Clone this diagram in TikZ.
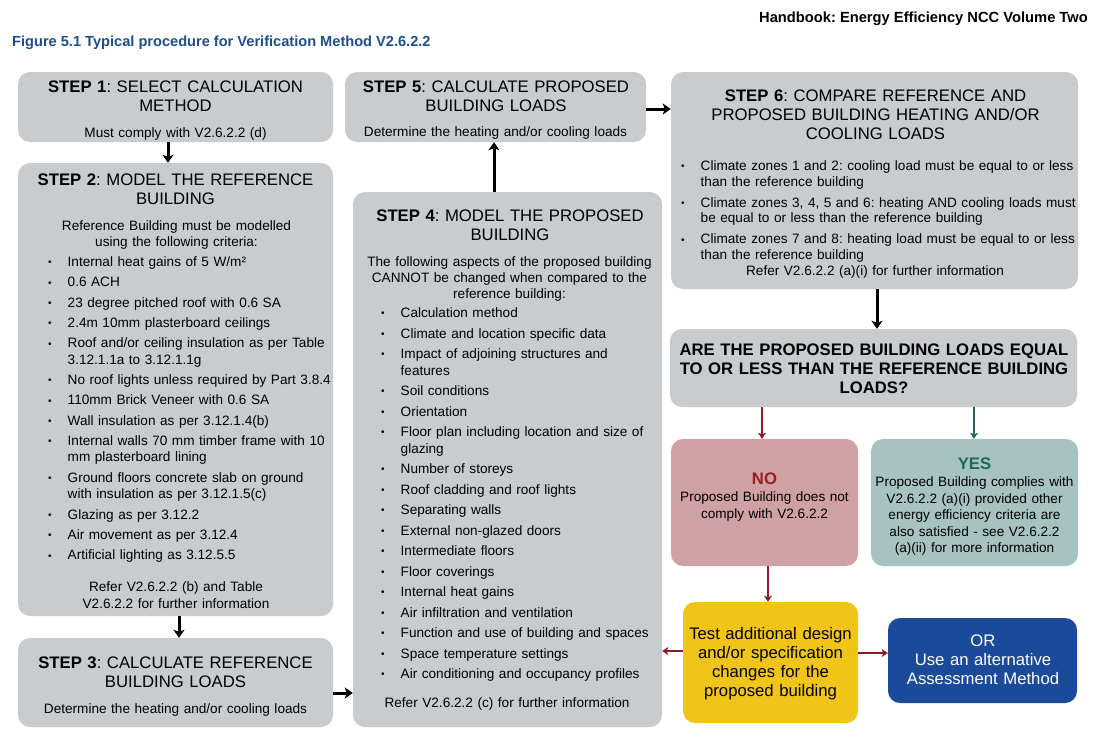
\documentclass[tikz,border=0pt]{standalone}
\usepackage{fontspec}
\setmainfont{Liberation Sans}
\usetikzlibrary{arrows.meta}
\frenchspacing
\definecolor{boxgray}{HTML}{C9CCCF}
\definecolor{nofill}{HTML}{D0A1A4}
\definecolor{yesfill}{HTML}{A7C3C1}
\definecolor{yellowfill}{HTML}{F1C419}
\definecolor{bluefill}{HTML}{1B4A9A}
\definecolor{notext}{HTML}{9B1C22}
\definecolor{yestext}{HTML}{1C6A5C}
\definecolor{redarrow}{HTML}{8C1A20}
\definecolor{tealarrow}{HTML}{1E6A5E}
\definecolor{figblue}{HTML}{1F4E8E}
\newcommand{\titlefont}{\frenchspacing\fontsize{16.7}{19}\selectfont}
\newcommand{\bodyfont}{\frenchspacing\fontsize{13.6}{16.5}\selectfont}
\newcommand{\bulletsym}{\raisebox{0.6pt}{\fontsize{10}{10}\selectfont\textbullet}}
\newcommand{\bitem}[1]{\hangindent=19.5pt\hangafter=1\noindent\makebox[19.5pt][l]{\bulletsym}#1\par}
\tikzset{
  box/.style={fill=boxgray, draw=none, rounded corners=12pt, inner sep=0pt},
  ttl/.style={inner sep=0pt, anchor=base, align=center, font=\titlefont},
  bdy/.style={inner sep=0pt, anchor=base, align=center, font=\bodyfont},
  lst/.style={inner sep=0pt, anchor=base west, align=left, font=\bodyfont},
  barr/.style={line width=3pt, -{Stealth[length=8pt,width=11pt,inset=2pt]}},
  rarr/.style={line width=1.8pt, draw=redarrow, -{Stealth[length=6pt,width=8pt,inset=1.5pt]}},
  tarr/.style={line width=1.8pt, draw=tealarrow, -{Stealth[length=6pt,width=8pt,inset=1.5pt]}}
}
\begin{document}
\begin{tikzpicture}[x=1pt,y=-1pt]
\fill[white] (0,0) rectangle (1100,737);
\useasboundingbox (0,0) rectangle (1100,737);

% header
\node[inner sep=0pt, anchor=base east, font=\frenchspacing\fontsize{14.7}{17}\selectfont\bfseries] (hdr) at (1088,22) {Handbook: Energy Efficiency NCC Volume Two};
\node[inner sep=0pt, anchor=base west, font=\frenchspacing\fontsize{14.6}{17}\selectfont\bfseries, text=figblue] (fig) at (12,46) {Figure 5.1 Typical procedure for Verification Method V2.6.2.2};

% boxes
\node[box, minimum width=315pt, minimum height=70pt] (s1) at (175.5,107) {};
\node[box, minimum width=315pt, minimum height=453pt] (s2) at (175.5,389.5) {};
\node[box, minimum width=315pt, minimum height=89pt] (s3) at (175.5,682.5) {};
\node[box, minimum width=301pt, minimum height=70pt] (s5) at (495.5,107) {};
\node[box, minimum width=309pt, minimum height=535pt] (s4) at (507.5,459.5) {};
\node[box, minimum width=407pt, minimum height=217pt] (s6) at (874.5,180.5) {};
\node[box, minimum width=407pt, minimum height=78pt] (dec) at (873.5,368) {};
\node[box, fill=nofill, minimum width=187pt, minimum height=127pt] (no) at (764.5,502.5) {};
\node[box, fill=yesfill, minimum width=207pt, minimum height=127pt] (yes) at (974.5,502.5) {};
\node[box, fill=yellowfill, minimum width=175pt, minimum height=121pt] (yel) at (770.5,662.5) {};
\node[box, fill=bluefill, minimum width=189pt, minimum height=85pt] (alt) at (982.5,660.5) {};

% step 1
\node[ttl, text width=305pt] (s1t) at (175.5,92) {\textbf{STEP 1}: SELECT CALCULATION\\METHOD};
\node[bdy, text width=305pt] (s1b) at (175.5,137.5) {Must comply with V2.6.2.2 (d)};

% step 2
\node[ttl, text width=305pt] (s2t) at (175.5,185) {\textbf{STEP 2}: MODEL THE REFERENCE\\BUILDING};
\node[bdy, text width=305pt] (s2i) at (176.5,230) {Reference Building must be modelled\\using the following criteria:};
\node[lst, text width=330pt] (s2l) at (48,266.5) {\setlength{\parskip}{3.8pt}%
\bitem{Internal heat gains of 5 W/m²}%
\bitem{0.6 ACH}%
\bitem{23 degree pitched roof with 0.6 SA}%
\bitem{2.4m 10mm plasterboard ceilings}%
\bitem{Roof and/or ceiling insulation as per Table\newline 3.12.1.1a to 3.12.1.1g}%
\bitem{No roof lights unless required by Part 3.8.4}%
\bitem{110mm Brick Veneer with 0.6 SA}%
\bitem{Wall insulation as per 3.12.1.4(b)}%
\bitem{Internal walls 70 mm timber frame with 10\newline mm plasterboard lining}%
\bitem{Ground floors concrete slab on ground\newline with insulation as per 3.12.1.5(c)}%
\bitem{Glazing as per 3.12.2}%
\bitem{Air movement as per 3.12.4}%
\bitem{Artificial lighting as 3.12.5.5}};
\node[bdy, text width=305pt] (s2r) at (176,591.5) {Refer V2.6.2.2 (b) and Table\\V2.6.2.2 for further information};

% step 3
\node[ttl, text width=305pt] (s3t) at (175.5,668) {\textbf{STEP 3}: CALCULATE REFERENCE\\BUILDING LOADS};
\node[bdy, text width=305pt] (s3b) at (175.5,713.5) {Determine the heating and/or cooling loads};

% step 5
\node[ttl, text width=295pt] (s5t) at (496,92) {\textbf{STEP 5}: CALCULATE PROPOSED\\BUILDING LOADS};
\node[bdy, text width=295pt] (s5b) at (495.5,136.5) {Determine the heating and/or cooling loads};

% step 4
\node[ttl, text width=300pt] (s4t) at (510,221) {\textbf{STEP 4}: MODEL THE PROPOSED\\BUILDING};
\node[bdy, text width=300pt, font=\frenchspacing\fontsize{13.6}{15.8}\selectfont] (s4i) at (509.5,266.5) {The following aspects of the proposed building\\CANNOT be changed when compared to the\\reference building:};
\node[lst, text width=300pt] (s4l) at (381,317.5) {\setlength{\parskip}{4pt}%
\bitem{Calculation method}%
\bitem{Climate and location specific data}%
\bitem{Impact of adjoining structures and\newline features}%
\bitem{Soil conditions}%
\bitem{Orientation}%
\bitem{Floor plan including location and size of\newline glazing}%
\bitem{Number of storeys}%
\bitem{Roof cladding and roof lights}%
\bitem{Separating walls}%
\bitem{External non-glazed doors}%
\bitem{Intermediate floors}%
\bitem{Floor coverings}%
\bitem{Internal heat gains}%
\bitem{Air infiltration and ventilation}%
\bitem{Function and use of building and spaces}%
\bitem{Space temperature settings}%
\bitem{Air conditioning and occupancy profiles}};
\node[bdy, text width=300pt] (s4r) at (507,707.5) {Refer V2.6.2.2 (c) for further information};

% step 6
\node[ttl, text width=400pt] (s6t) at (875.5,101) {\textbf{STEP 6}: COMPARE REFERENCE AND\\PROPOSED BUILDING HEATING AND/OR\\COOLING LOADS};
\node[lst, text width=410pt, font=\frenchspacing\fontsize{13.6}{15.8}\selectfont] (s6l) at (681,170.5) {\setlength{\parskip}{5pt}%
\bitem{Climate zones 1 and 2: cooling load must be equal to or less\newline than the reference building}%
\bitem{Climate zones 3, 4, 5 and 6: heating AND cooling loads must\newline be equal to or less than the reference building}%
\bitem{Climate zones 7 and 8: heating load must be equal to or less\newline than the reference building}};
\node[bdy, text width=400pt] (s6r) at (875,275.5) {Refer V2.6.2.2 (a)(i) for further information};

% decision
\node[ttl, text width=405pt, font=\titlefont\bfseries] (dect) at (874,355) {ARE THE PROPOSED BUILDING LOADS EQUAL\\TO OR LESS THAN THE REFERENCE BUILDING\\LOADS?};

% no / yes
\node[ttl, text width=180pt, font=\titlefont\bfseries, text=notext] (not) at (764.5,484) {NO};
\node[bdy, text width=185pt] (nob) at (764.5,501.5) {Proposed Building does not\\comply with V2.6.2.2};
\node[ttl, text width=200pt, font=\titlefont\bfseries, text=yestext] (yest) at (974.5,469) {YES};
\node[bdy, text width=205pt] (yesb) at (974.5,486.5) {Proposed Building complies with\\V2.6.2.2 (a)(i) provided other\\energy efficiency criteria are\\also satisfied - see V2.6.2.2\\(a)(ii) for more information};

% yellow / blue
\node[ttl, text width=175pt] (yelt) at (770.5,639) {Test additional design\\and/or specification\\changes for the\\proposed building};
\node[ttl, text width=189pt, text=white] (altt) at (983,646) {OR\\Use an alternative\\Assessment Method};

% connectors
\draw[barr] ([xshift=-7.5pt]s1.south) -- ([xshift=-7.5pt]s1.south |- s2.north);
\draw[barr] ([xshift=3.5pt]s2.south) -- ([xshift=3.5pt]s2.south |- s3.north);
\draw[barr] ([yshift=-10.5pt]s3.east) -- ([yshift=-10.5pt]s3.east -| s4.west);
\draw[barr] ([xshift=-13.5pt]s4.north) -- ([xshift=-13.5pt]s4.north |- s5.south);
\draw[barr] ([yshift=-2pt]s5.east) -- ([yshift=-2pt]s5.east -| s6.west);
\draw[barr] ([xshift=2.5pt]s6.south) -- ([xshift=2.5pt]s6.south |- dec.north);
\draw[rarr] ([xshift=-2.5pt]no.north |- dec.south) -- ([xshift=-2.5pt]no.north);
\draw[tarr] ([xshift=-0.5pt]yes.north |- dec.south) -- ([xshift=-0.5pt]yes.north);
\draw[rarr] ([xshift=3.5pt]no.south) -- ([xshift=3.5pt]no.south |- yel.north);
\draw[rarr] ([yshift=11.5pt]yel.west) -- ([yshift=11.5pt]yel.west -| s4.east);
\draw[rarr] ([yshift=9.5pt]yel.east) -- ([yshift=9.5pt]yel.east -| alt.west);
\end{tikzpicture}
\end{document}
